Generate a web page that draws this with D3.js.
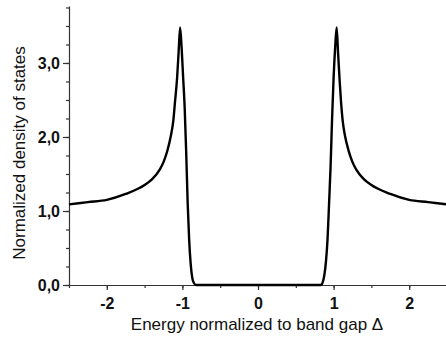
<!DOCTYPE html>
<html>
<head>
<meta charset="utf-8">
<script src="https://cdn.jsdelivr.net/npm/d3@7"></script>
<style>
  body { margin: 0; background: #fff; }
  text { font-family: "Liberation Sans", Arial, sans-serif; fill: #111; }
</style>
</head>
<body>
<div id="chart"></div>
<script>
// energy (units of gap) and normalized DOS
const energy = [
  -2.5, -2.25, -2.0, -1.75, -1.5, -1.4, -1.3, -1.25, -1.2, -1.15, -1.12, -1.1, -1.07, -1.05, -1.03,
  -1.01, -0.99, -0.97, -0.95, -0.93, -0.91, -0.89, -0.87, -0.85, -0.82,
  0,
  0.83, 0.86, 0.88, 0.90, 0.92, 0.94, 0.96, 0.98, 1.00, 1.02, 1.04,
  1.06, 1.08, 1.10, 1.12, 1.15, 1.20, 1.25, 1.3, 1.4, 1.5, 1.75, 2.0, 2.25, 2.5
];
const dos = [
  1.09, 1.12, 1.15, 1.23, 1.35, 1.43, 1.56, 1.66, 1.81, 2.03, 2.22, 2.45, 2.80, 3.15, 3.48,
  3.20, 2.80, 2.40, 1.80, 1.10, 0.60, 0.28, 0.10, 0.03, 0.0,
  0.0,
  0.0, 0.05, 0.15, 0.33, 0.62, 1.10, 1.60, 2.25, 2.80, 3.20, 3.48,
  3.12, 2.76, 2.45, 2.22, 2.02, 1.81, 1.66, 1.56, 1.43, 1.35, 1.23, 1.15, 1.12, 1.09
];
const xMajor = [-2, -1, 0, 1, 2];
const yMajor = [0, 1, 2, 3];
const xTitle = "Energy normalized to band gap \u0394";
const yTitle = "Normalized density of states";

const width = 446, height = 345;
const margin = { top: 6, right: 0, bottom: 60, left: 69 };

const svg = d3.select("#chart")
  .append("svg")
    .attr("width", width)
    .attr("height", height);

const x = d3.scaleLinear().domain([-2.5, 2.5]).range([margin.left, 447]);
const y = d3.scaleLinear().domain([0, 3.77]).range([285, margin.top]);

// minor ticks first, then the labelled axes
svg.append("g")
  .attr("transform", `translate(0,${y(0)})`)
  .call(d3.axisBottom(x).tickValues(d3.range(-2.5, 2.51, 0.5)).tickSize(3).tickFormat(""))
  .call(g => g.select(".domain").remove());

svg.append("g")
  .attr("transform", `translate(${x(-2.5)},0)`)
  .call(d3.axisLeft(y).tickValues(d3.range(0, 3.76, 0.25)).tickSize(3).tickFormat(""))
  .call(g => g.select(".domain").remove());

const xAxis = svg.append("g")
  .attr("transform", `translate(0,${y(0)})`)
  .call(d3.axisBottom(x).tickValues(xMajor).tickSize(5).tickSizeOuter(0).tickPadding(8)
    .tickFormat(d => d));

const yAxis = svg.append("g")
  .attr("transform", `translate(${x(-2.5)},0)`)
  .call(d3.axisLeft(y).tickValues(yMajor).tickSize(6).tickSizeOuter(0).tickPadding(3)
    .tickFormat(d => d.toFixed(1).replace(".", ",")));

[xAxis, yAxis].forEach(a => {
  a.selectAll("text")
    .style("font-family", "'Liberation Sans', Arial, sans-serif")
    .style("font-size", "16px")
    .style("font-weight", "bold")
    .attr("fill", "#111");
  a.selectAll("line, path").attr("stroke", "#333").attr("stroke-width", 1.2);
});
svg.selectAll("g line").attr("stroke", "#333").attr("stroke-width", 1.2);

svg.append("text")
  .attr("x", 257)
  .attr("y", 330)
  .attr("text-anchor", "middle")
  .style("font-size", "17px")
  .text(xTitle);

svg.append("text")
  .attr("transform", `translate(25,153) rotate(-90)`)
  .attr("text-anchor", "middle")
  .style("font-size", "17px")
  .text(yTitle);

const line = d3.line()
  .x((d, i) => x(energy[i]))
  .y(d => y(d))
  .curve(d3.curveMonotoneX);

svg.append("path")
  .datum(dos)
  .attr("fill", "none")
  .attr("stroke", "#000")
  .attr("stroke-width", 2.4)
  .attr("stroke-linejoin", "round")
  .attr("d", line);
</script>
</body>
</html>
